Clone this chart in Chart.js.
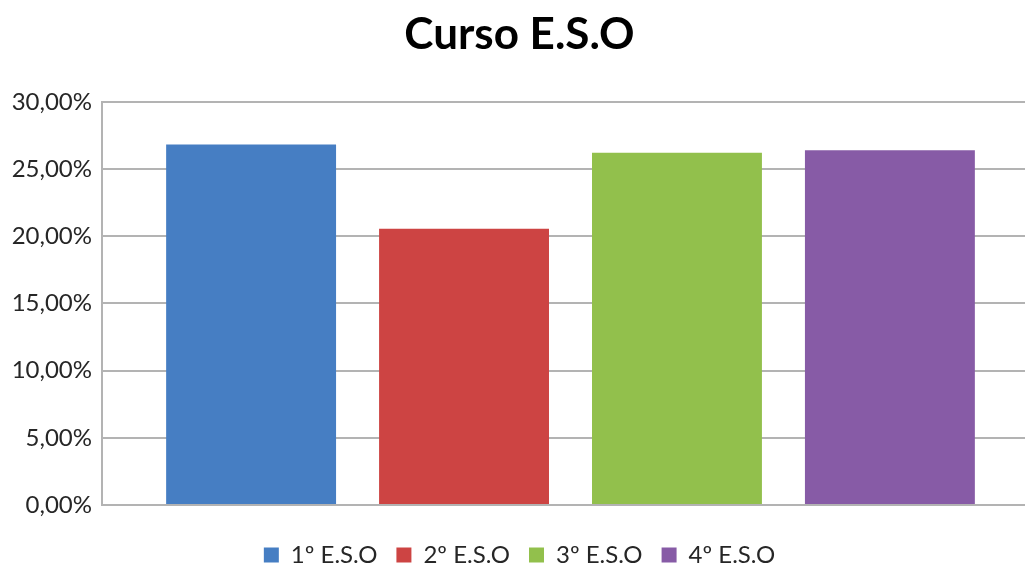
<!DOCTYPE html>
<html>
<head>
<meta charset="utf-8">
<script src="https://cdn.jsdelivr.net/npm/chart.js@4"></script>
<style>
  html, body { margin: 0; padding: 0; background: #ffffff; overflow: hidden; }
  #wrap { width: 1050px; height: 577px; }
</style>
</head>
<body>
<div id="wrap"><canvas id="c"></canvas></div>
<script>
const categories = ["Curso E.S.O"];
const seriesNames = ["1º E.S.O", "2º E.S.O", "3º E.S.O", "4º E.S.O"];
const seriesValues = [26.83, 20.55, 26.2, 26.4];
const seriesColors = ["#467ec3", "#cd4443", "#92c04c", "#875ba6"];
const yTicks = [0, 5, 10, 15, 20, 25, 30];

const datasets = seriesNames.map((name, i) => ({
  label: name,
  data: [seriesValues[i]],
  backgroundColor: seriesColors[i],
  borderWidth: 0,
  categoryPercentage: 0.909,
  barPercentage: 0.798
}));

const bgPlugin = {
  id: 'bg',
  beforeDraw(chart) {
    const ctx = chart.ctx;
    ctx.save();
    ctx.fillStyle = '#ffffff';
    ctx.fillRect(0, 0, chart.width, chart.height);
    ctx.restore();
  }
};

new Chart(document.getElementById('c'), {
  type: 'bar',
  data: { labels: categories, datasets },
  plugins: [bgPlugin],
  options: {
    responsive: true,
    maintainAspectRatio: false,
    animation: false,
    layout: { padding: { left: 0, right: 11, top: 0, bottom: 0 } },
    plugins: {
      title: {
        display: true,
        text: 'Curso E.S.O',
        color: '#000000',
        font: { family: 'Lato', size: 44, weight: 'bold' },
        padding: { top: 8, bottom: 41 }
      },
      legend: {
        position: 'bottom',
        labels: {
          color: '#262626',
          font: { family: 'Lato', size: 24 },
          boxWidth: 15,
          boxHeight: 15,
          padding: 19
        }
      },
      tooltip: { enabled: false }
    },
    scales: {
      x: {
        ticks: { display: false },
        grid: { display: false, drawTicks: false },
        border: { display: true, color: '#b3b3b3', width: 2 },
        afterFit(scale) { scale.height = 19; }
      },
      y: {
        min: 0,
        max: 30,
        afterBuildTicks(scale) { scale.ticks = yTicks.map(v => ({ value: v })); },
        afterFit(scale) { scale.width = 102; },
        ticks: {
          color: '#262626',
          padding: 10,
          font: { family: 'Lato', size: 24 },
          callback: (v) => v.toFixed(2).replace('.', ',') + '%'
        },
        grid: { color: '#b3b3b3', lineWidth: 2, drawTicks: false },
        border: { display: true, color: '#b3b3b3', width: 2 }
      }
    }
  }
});
</script>
</body>
</html>
